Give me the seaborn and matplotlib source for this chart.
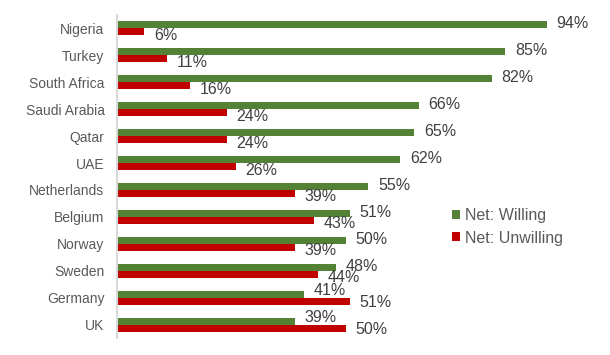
import pandas as pd
import matplotlib
matplotlib.use("Agg")
import matplotlib.pyplot as plt
import matplotlib.patches as mpatches
import seaborn as sns

# Данные с графика
countries = ["Nigeria", "Turkey", "South Africa", "Saudi Arabia", "Qatar", "UAE",
             "Netherlands", "Belgium", "Norway", "Sweden", "Germany", "UK"]
willing = [94, 85, 82, 66, 65, 62, 55, 51, 50, 48, 41, 39]
unwilling = [6, 11, 16, 24, 24, 26, 39, 43, 39, 44, 51, 50]
series = ["Net: Willing", "Net: Unwilling"]
colors = ["#548235", "#C00000"]


def build_frame():
    """Длинный формат для seaborn."""
    rows = []
    for c, w, u in zip(countries, willing, unwilling):
        rows.append({"country": c, "series": series[0], "value": w})
        rows.append({"country": c, "series": series[1], "value": u})
    return pd.DataFrame(rows)


def main():
    df = build_frame()

    sns.set_style("white")
    plt.rcParams["font.family"] = ["Liberation Sans", "DejaVu Sans"]

    fig = plt.figure(figsize=(6.1, 3.55), dpi=100)
    ax = fig.add_axes([117 / 610, 1 - 338 / 355, 457 / 610, 323 / 355])

    sns.barplot(data=df, x="value", y="country", hue="series", order=countries,
                hue_order=series, palette=colors, orient="h", width=0.52,
                saturation=1, errorbar=None, ax=ax, legend=False, linewidth=0)

    ax.set_xlim(0, 100)
    ax.set_xlabel("")
    ax.set_ylabel("")
    ax.set_xticks([])
    ax.tick_params(axis="y", length=0, pad=9, labelsize=10, labelcolor="#595959")
    for side in ["top", "right", "bottom"]:
        ax.spines[side].set_visible(False)
    ax.spines["left"].set_color("#d9d9d9")
    ax.spines["left"].set_linewidth(1.5)

    # Подписи значений; подпись меньшего столбца сдвигается от соседа
    px = 0.72
    for i, (w, u) in enumerate(zip(willing, unwilling)):
        g_shift = 1.0 if w > u else 3.5
        r_shift = 1.0 if u > w else 3.5
        gb = ax.containers[0][i]
        rb = ax.containers[1][i]
        ax.annotate(f"{w}%", xy=(w, gb.get_y() + gb.get_height() / 2),
                    xytext=(7, g_shift * px), textcoords="offset points",
                    ha="left", va="center", fontsize=11.5, color="#404040",
                    annotation_clip=False)
        ax.annotate(f"{u}%", xy=(u, rb.get_y() + rb.get_height() / 2),
                    xytext=(7, -r_shift * px), textcoords="offset points",
                    ha="left", va="center", fontsize=11.5, color="#404040",
                    annotation_clip=False)

    handles = [mpatches.Patch(facecolor=c, edgecolor="none", label=s)
               for s, c in zip(series, colors)]
    ax.legend(handles=handles, loc="center left",
              bbox_to_anchor=(452 / 610, 1 - 227 / 355), bbox_transform=fig.transFigure,
              frameon=False, fontsize=11.5, labelcolor="#595959",
              handlelength=0.5, handleheight=0.5, handletextpad=0.3,
              labelspacing=0.45, borderpad=0, borderaxespad=0)

    fig.savefig("out.png", dpi=100)


if __name__ == "__main__":
    main()
